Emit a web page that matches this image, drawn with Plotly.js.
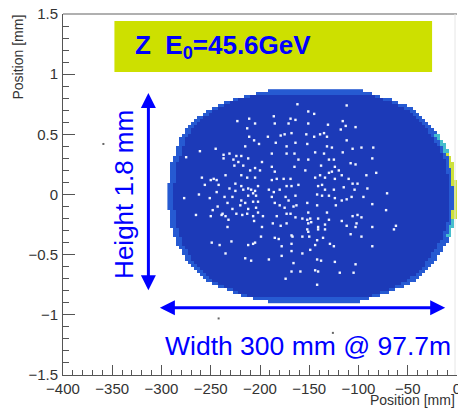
<!DOCTYPE html>
<html>
<head>
<meta charset="utf-8">
<script src="https://cdn.plot.ly/plotly-3.0.1.min.js"></script>
<style>html,body{margin:0;padding:0;background:#fff;overflow:hidden;}#chart{width:458px;height:408px;}</style>
</head>
<body>
<div id="chart"></div>
<script>
// ---- Beam-spot histogram ----
// row centres (mm) of the filled region and its left / right edges (mm)
const rowY = [0.8625, 0.8375, 0.8125, 0.7875, 0.7625, 0.7375, 0.7125, 0.6875, 0.6625, 0.6375, 0.6125, 0.5875, 0.5625, 0.5375,
  0.5125, 0.4875, 0.4625, 0.4375, 0.4125, 0.3875, 0.3625, 0.3375, 0.3125, 0.2875, 0.2625, 0.2375, 0.2125, 0.1875, 0.1625,
  0.1375, 0.1125, 0.0875, 0.0625, 0.0375, 0.0125, -0.0125, -0.0375, -0.0625, -0.0875, -0.1125, -0.1375, -0.1625, -0.1875,
  -0.2125, -0.2375, -0.2625, -0.2875, -0.3125, -0.3375, -0.3625, -0.3875, -0.4125, -0.4375, -0.4625, -0.4875, -0.5125,
  -0.5375, -0.5625, -0.5875, -0.6125, -0.6375, -0.6625, -0.6875, -0.7125, -0.7375, -0.7625, -0.7875, -0.8125, -0.8375,
  -0.8625, -0.8875];
const rowLeft = [-191, -204, -216, -228, -236, -243, -249, -254, -258, -262, -265, -268, -271, -274,
  -276, -278, -280, -281, -282, -283, -284, -285, -287, -288, -289, -289, -290, -290, -291,
  -291, -291, -292, -292, -292, -292, -292, -292, -292, -292, -292, -291, -291, -291,
  -290, -289, -289, -288, -287, -286, -285, -284, -283, -281, -279, -277, -276,
  -274, -272, -269, -266, -264, -261, -258, -254, -248, -242, -234, -226, -218,
  -206, -191];
const rowRight = [-98, -88, -78, -68, -60, -53, -47, -42, -39, -36, -33, -30, -27, -24,
  -22, -20, -18, -16, -14, -12, -11, -9, -7, -6, -5, -5, -4, -4, -3,
  -3, -2, -2, -1, -1, -1, -1, -1, -1, -1, -1, -2, -2, -2,
  -3, -4, -5, -6, -7, -8, -9, -11, -13, -15, -17, -19, -21,
  -23, -25, -27, -30, -33, -36, -40, -44, -50, -56, -63, -71, -80,
  -91, -101];
const binWidth = 3;   // mm, histogram x bin
const xStart = -294;  // mm, first bin edge
const xEnd = 0;

// empty bins (white dots) inside the spot
const dotX = [-223,-211,-205,-213,-211,-206,-215,-201,-261,-245,-231,-237,-224,-219,-237,-227,-222,-212,-198,-275,-226,-217,-205,-210,-200,
  -259,-247,-250,-244,-235,-219,-213,-205,-256,-242,-225,-219,-231,-212,-209,-205,-202,-262,-251,-244,-225,-217,-207,-204,-277,-236,-228,
  -219,-212,-215,-207,-202,-243,-233,-220,-228,-212,-204,-265,-250,-248,-239,-235,-238,-224,-218,-213,-207,-202,-232,-233,-206,-197,-198,
  -199,-249,-241,-229,-212,-207,-205,-235,-215,-209,
  -162,-112,-151,-145,-186,-169,-164,-185,-171,-151,-131,-116,-113,-192,-179,-175,-168,-153,-145,-139,-135,-132,-118,-112,-103,-184,-173,
  -164,-152,-132,-127,-106,-97,-188,-173,-165,-144,-135,-116,-161,-151,-130,-125,-124,-120,-138,-108,-103,-188,-185,-188,-165,-154,-139,
  -130,-127,-117,-169,-176,-183,-144,-134,-124,-110,-106,-101,-191,-186,-180,-173,-168,-161,-141,-137,-134,-125,-115,-104,-95,-188,-174,
  -171,-164,-142,-137,-130,-124,-117,-112,-107,-185,-180,-175,-166,-163,-152,-142,-123,-173,-169,-151,-132,-183,-164,-157,-152,-149,-141,
  -130,-117,-106,-101,-97,-187,-179,-173,-151,-148,-141,-134,-112,-102,-103,-152,-151,-141,-134,-185,-181,-168,-167,-157,-150,-142,-136,
  -129,-125,-108,-97,-178,-168,-168,-157,-149,-144,-191,-178,-142,-138,-124,-103,-166,-168,-159,-144,-141,-119,-105,-174,-142,
  -85,-86,-82,-92,-91,-71,-86,-72,-86,-62,-64,-86];
const dotY = [0.61,0.63,0.59,0.55,0.48,0.45,0.40,0.42,0.36,0.38,0.34,0.33,0.32,0.32,0.30,0.29,0.27,0.30,0.27,0.31,0.24,0.24,0.22,0.20,0.20,
  0.14,0.13,0.12,0.12,0.16,0.16,0.14,0.14,0.08,0.08,0.09,0.07,0.05,0.05,0.04,0.03,0.07,0.00,-0.03,0.02,0.03,0.04,0.01,-0.01,-0.03,-0.02,-0.02,
  -0.05,-0.01,-0.07,-0.06,-0.06,-0.10,-0.07,-0.09,-0.12,-0.12,-0.11,-0.17,-0.18,-0.13,-0.17,-0.18,-0.16,-0.16,-0.17,-0.16,-0.18,-0.15,-0.21,-0.27,-0.22,-0.18,-0.27,
  -0.35,-0.40,-0.42,-0.39,-0.42,-0.41,-0.40,-0.49,-0.53,-0.55,
  0.75,0.74,0.69,0.67,0.65,0.63,0.62,0.59,0.59,0.59,0.58,0.61,0.57,0.48,0.49,0.50,0.51,0.50,0.48,0.50,0.51,0.48,0.54,0.45,0.56,0.43,0.40,
  0.43,0.42,0.40,0.39,0.38,0.39,0.34,0.34,0.34,0.35,0.34,0.35,0.29,0.29,0.29,0.29,0.23,0.20,0.24,0.26,0.25,0.23,0.19,0.12,0.23,0.20,0.16,
  0.18,0.19,0.16,0.13,0.13,0.13,0.14,0.14,0.13,0.13,0.09,0.09,0.04,0.02,0.04,0.07,0.07,0.08,0.07,0.08,0.04,0.04,0.06,0.04,-0.02,-0.02,-0.02,
  -0.05,-0.01,0.00,-0.01,-0.01,-0.03,-0.05,-0.04,-0.02,-0.07,-0.09,-0.11,-0.10,-0.09,-0.07,-0.09,-0.09,-0.16,-0.16,-0.15,-0.15,-0.18,-0.19,-0.20,-0.21,-0.20,-0.20,
  -0.21,-0.22,-0.18,-0.17,-0.19,-0.24,-0.26,-0.24,-0.24,-0.23,-0.27,-0.25,-0.26,-0.24,-0.27,-0.29,-0.31,-0.29,-0.29,-0.36,-0.37,-0.34,-0.35,-0.35,-0.35,-0.38,-0.36,
  -0.41,-0.43,-0.33,-0.35,-0.43,-0.41,-0.47,-0.49,-0.46,-0.42,-0.54,-0.51,-0.54,-0.55,-0.56,-0.58,-0.57,-0.64,-0.64,-0.63,-0.64,-0.65,-0.65,-0.70,-0.75,
  0.39,0.30,0.18,0.16,0.05,0.01,-0.08,-0.13,-0.27,-0.26,-0.29,-0.43];

// isolated single counts outside the spot
const strayX = [-359, -242, -126];
const strayY = [0.42, -1.03, -1.15];

// text
const boxText = 'Z  E<sub>0</sub>=45.6GeV';
const heightText = 'Height 1.8 mm';
const widthText = 'Width 300 mm @ 97.7m';
const axisTitle = 'Position [mm]';

// ---- build histogram matrix from the rows ----
const xCenters = [];
for (let i = 0; xStart + binWidth * (i + 0.5) < xEnd; i++) xCenters.push(xStart + binWidth * (i + 0.5));
const nRows = rowY.length;
const z = rowY.map((yv, r) => {
  const L = rowLeft[r], R = rowRight[r];
  const edgeRow = (r < 2 || r > nRows - 3);
  return xCenters.map(xc => {
    if (xc < L - 1 || xc > R + 1) return null;
    let v = 1;
    if (edgeRow || xc - L < 5 || R - xc < 7) v = 2;
    if (R - xc < 3) {
      if (yv <= 0.35 && yv >= -0.2) v = 4;
      else if (yv <= 0.5 && yv >= -0.35) v = 3;
    }
    return v;
  });
});

const traces = [
  {
    type: 'heatmap', x: xCenters, y: rowY, z: z, zmin: 1, zmax: 4,
    colorscale: [[0, 'rgb(28,58,184)'], [0.333, 'rgb(38,90,210)'],
                 [0.5, 'rgb(50,140,225)'], [0.667, 'rgb(70,190,205)'], [1, 'rgb(205,225,60)']],
    showscale: false, hoverinfo: 'skip', zsmooth: false, connectgaps: false
  },
  {
    type: 'scatter', mode: 'markers', x: dotX, y: dotY, hoverinfo: 'skip',
    marker: { symbol: 'square', size: 2.4, color: '#f2f5ff', line: { width: 0 } }
  },
  {
    type: 'scatter', mode: 'markers', x: strayX, y: strayY, hoverinfo: 'skip',
    marker: { symbol: 'square', size: 2, color: '#666', line: { width: 0 } }
  }
];

const tickFont = { family: 'Liberation Sans, Arial, sans-serif', size: 15, color: '#333' };
const blue = '#0000ff';

const layout = {
  width: 458, height: 408,
  margin: { l: 63, r: 1, t: 14, b: 33, pad: 0 },
  paper_bgcolor: '#ffffff', plot_bgcolor: '#ffffff',
  showlegend: false, hovermode: false,
  xaxis: {
    range: [-400, 0], dtick: 50, tick0: 0, ticks: 'inside', ticklen: 10, tickwidth: 1, tickcolor: '#555',
    showline: true, linecolor: '#555', linewidth: 1, showgrid: false, zeroline: false,
    tickfont: tickFont, ticklabelstandoff: 0, ticklabeloverflow: 'allow',
    minor: { ticks: 'inside', ticklen: 5, dtick: 10, tickcolor: '#555', tickwidth: 1, showgrid: false }
  },
  yaxis: {
    range: [-1.5, 1.5], dtick: 0.5, tick0: 0, ticks: 'inside', ticklen: 12, tickwidth: 1, tickcolor: '#555',
    showline: true, linecolor: '#555', linewidth: 1, showgrid: false, zeroline: false,
    tickfont: tickFont, ticklabelstandoff: 1, ticklabeloverflow: 'allow',
    minor: { ticks: 'inside', ticklen: 6, dtick: 0.1, tickcolor: '#555', tickwidth: 1, showgrid: false }
  },
  shapes: [
    { type: 'line', xref: 'paper', yref: 'paper', x0: 0, x1: 1, y0: 1, y1: 1, line: { color: '#b0b0b0', width: 2 } },
    { type: 'line', xref: 'paper', yref: 'paper', x0: 0.995, x1: 0.995, y0: 0, y1: 1, line: { color: '#e6e6e6', width: 1 } },
    { type: 'rect', xref: 'x', yref: 'y', x0: -347.8, x1: -25.3, y0: 1.018, y1: 1.442,
      fillcolor: '#cde000', line: { width: 0 } }
  ],
  annotations: [
    { xref: 'x', yref: 'y', x: -329, y: 1.232, xanchor: 'left', yanchor: 'middle', showarrow: false,
      text: boxText, font: { family: 'Liberation Sans, Arial, sans-serif', size: 26, color: blue, weight: 'bold' } },
    { xref: 'x', yref: 'y', x: -338.7, y: 0.0, xanchor: 'center', yanchor: 'middle', showarrow: false, textangle: -90,
      text: heightText, font: { family: 'Liberation Sans, Arial, sans-serif', size: 26, color: blue } },
    { xref: 'x', yref: 'y', x: -151, y: -1.255, xanchor: 'center', yanchor: 'middle', showarrow: false,
      text: widthText, font: { family: 'Liberation Sans, Arial, sans-serif', size: 26.5, color: blue } },
    { xref: 'x', yref: 'y', axref: 'x', ayref: 'y', x: -313.3, y: 0.844, ax: -313.3, ay: -0.809, text: '',
      showarrow: true, arrowside: 'end+start', arrowhead: 2, startarrowhead: 2, arrowsize: 1, startarrowsize: 1,
      arrowwidth: 3, arrowcolor: blue },
    { xref: 'x', yref: 'y', axref: 'x', ayref: 'y', x: -12.0, y: -0.942, ax: -303.2, ay: -0.942, text: '',
      showarrow: true, arrowside: 'end+start', arrowhead: 2, startarrowhead: 2, arrowsize: 1, startarrowsize: 1,
      arrowwidth: 3, arrowcolor: blue },
    { xref: 'paper', yref: 'paper', x: 1, y: 0, yshift: -15, xanchor: 'right', yanchor: 'top', showarrow: false,
      text: axisTitle, font: { family: 'Liberation Sans, Arial, sans-serif', size: 14, color: '#333' } },
    { xref: 'paper', yref: 'paper', x: 0, y: 1, xshift: -46, yshift: 1, xanchor: 'center', yanchor: 'top', showarrow: false,
      textangle: -90, text: axisTitle, font: { family: 'Liberation Sans, Arial, sans-serif', size: 14, color: '#333' } }
  ]
};

Plotly.newPlot('chart', traces, layout, { staticPlot: true, displayModeBar: false });
</script>
</body>
</html>
